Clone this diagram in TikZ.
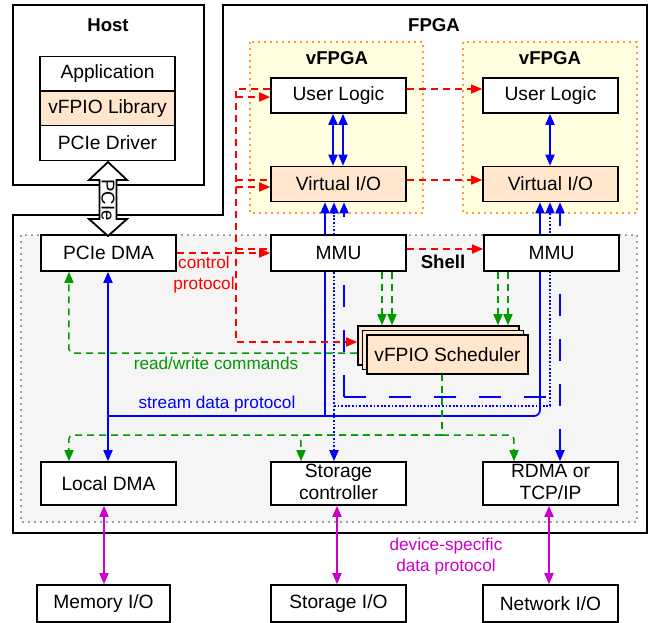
\documentclass[tikz,border=0pt]{standalone}
\usepackage{fontspec}
\setmainfont{Liberation Sans}
\usetikzlibrary{arrows.meta}
\definecolor{peach}{HTML}{FFE6CC}
\definecolor{vyel}{HTML}{FFFFE0}
\definecolor{vor}{HTML}{FF9933}
\definecolor{shellf}{HTML}{F5F5F5}
\definecolor{shellb}{HTML}{A0A0A0}
\definecolor{myred}{HTML}{FF0000}
\definecolor{mygreen}{HTML}{009900}
\definecolor{myblue}{HTML}{0000FF}
\definecolor{mymag}{HTML}{CC00CC}
\begin{document}
\begin{tikzpicture}[x=0.5pt,y=-0.5pt,
 box/.style={draw=black, line width=0.8pt, fill=white, minimum width=67.5pt, minimum height=17.5pt, inner sep=0pt, font=\fontsize{9.6}{11}\selectfont, align=center},
 pbox/.style={box, fill=peach},
 ttl/.style={font=\fontsize{9.3}{11}\selectfont\bfseries, inner sep=0pt},
 lbl/.style={font=\fontsize{8.6}{10}\selectfont, inner sep=0pt, align=center},
 rd/.style={draw=myred, line width=0.75pt, dash pattern=on 3.5pt off 2.5pt},
 gd/.style={draw=mygreen, line width=0.75pt, dash pattern=on 3.5pt off 2.5pt},
 bs/.style={draw=myblue, line width=0.9pt},
 bdot/.style={bs, dash pattern=on 0.9pt off 0.9pt},
 bdash/.style={bs, dash pattern=on 11pt off 11.5pt},
 mg/.style={draw=mymag, line width=0.9pt},
 >={Triangle[length=5.5pt,width=4.5pt]}
]
\useasboundingbox (0,0) rectangle (650,623);
% containers
\draw[line width=1pt] (13,5) rectangle (204,185);
\node[ttl] (hostt) at (108,25) {Host};
\draw[line width=1pt] (223,5) -- (647,5) -- (647,533) -- (13,533) -- (13,215) -- (223,215) -- cycle;
\node[ttl] (fpgat) at (434,25) {FPGA};
\draw[draw=vor, fill=vyel, line width=1pt, dash pattern=on 1pt off 2pt] (250,42) rectangle (423,213);
\draw[draw=vor, fill=vyel, line width=1pt, dash pattern=on 1pt off 2pt] (463,42) rectangle (637,213);
\node[ttl] (v1t) at (337,58) {vFPGA};
\node[ttl] (v2t) at (550,58) {vFPGA};
\draw[draw=shellb, fill=shellf, line width=1pt, dash pattern=on 1pt off 2pt] (21,235) rectangle (637,522);
\node[ttl] (shellt) at (443,262) {Shell};

% host stack
\node[box] (app) at (107.5,74) {Application};
\node[pbox] (lib) at (107.5,108.5) {vFPIO Library};
\node[box] (drv) at (107.5,143) {PCIe Driver};

% coordinates
\coordinate (cA) at (325,0);
\coordinate (cB) at (334,0);
\coordinate (cC) at (344,0);
\coordinate (dA) at (540,0);
\coordinate (dB) at (550,0);
\coordinate (dC) at (560,0);
\coordinate (cP) at (108,0);
\coordinate (u1) at (333,0);
\coordinate (u2) at (343,0);
\coordinate (u3) at (550,0);
\coordinate (g1) at (69,0);
\coordinate (gs) at (301,0);
\coordinate (gr) at (514,0);
\coordinate (gx) at (442,0);
\coordinate (ga) at (382,0);
\coordinate (gb) at (392,0);
\coordinate (gc) at (498,0);
\coordinate (gd) at (508,0);
\coordinate (rx) at (236,0);
\coordinate (m1) at (104,0);
\coordinate (m2) at (337,0);
\coordinate (m3) at (549,0);
\coordinate (ybus) at (0,416);
\coordinate (ydot) at (0,406);
\coordinate (ydash) at (0,397);
\coordinate (ygr) at (0,435);
\coordinate (yrw) at (0,353);
\coordinate (yred) at (0,342);
\coordinate (y89) at (0,89);
\coordinate (y97) at (0,97);
\coordinate (y180) at (0,180);
\coordinate (y187) at (0,187);
\coordinate (y249) at (0,249);

% vFPGA boxes
\node[box] (ul1) at (338.5,95.5) {User Logic};
\node[box] (ul2) at (550.5,95.5) {User Logic};
\node[pbox] (vio1) at (338.5,184) {Virtual I/O};
\node[pbox] (vio2) at (550.5,184) {Virtual I/O};

% bottom boxes (positions needed for connectors)
\node[box, minimum height=21.5pt] (ld) at (108.5,483.5) {Local DMA};
\node[box, minimum height=21.5pt] (sc) at (338.5,483.5) {};
\node[box, minimum height=21.5pt] (rd) at (550.5,483.5) {};
\node[box, minimum width=66.5pt, minimum height=18.5pt] (mi) at (103.5,603.5) {Memory I/O};
\node[box, minimum height=18.5pt] (si) at (338.5,603.5) {Storage I/O};
\node[box, minimum height=18.5pt] (ni) at (550.5,603.5) {Network I/O};

% scheduler stack
\node[pbox, minimum width=80.5pt, minimum height=19.5pt] (schB) at (438.5,345.5) {};
\node[pbox, minimum width=80.5pt, minimum height=19.5pt] (schM) at (443,350) {};

% PCIe DMA, MMU nodes placed (drawn later on top)
\path (108.5,253) node[box, minimum height=18pt, draw=none, fill=none] (pdp) {};
\path (338.5,253) node[box, minimum height=18pt, draw=none, fill=none] (mmu1p) {};
\path (551.5,253) node[box, minimum height=18pt, draw=none, fill=none] (mmu2p) {};

% blue connectors
\draw[bs,<->] (ul1.south -| u1) -- (vio1.north -| u1);
\draw[bs,<->] (ul1.south -| u2) -- (vio1.north -| u2);
\draw[bs,<->] (ul2.south -| u3) -- (vio2.north -| u3);
\draw[bs] (cP |- ybus) -- (cA |- ybus);
\draw[bs,->] (cA |- ybus) -- (vio1.south -| cA);
\draw[bs,->,rounded corners=3] (cA |- ybus) -- (dA |- ybus) -- (vio2.south -| dA);
\draw[bs,->] (cP |- ybus) -- (pdp.south -| cP);
\draw[bs,->] (cP |- ybus) -- (ld.north -| cP);
\draw[bdot,<->] (sc.north -| cB) -- (vio1.south -| cB);
\draw[bdot,->] (cB |- ydot) -- (dB |- ydot) -- (vio2.south -| dB);
\draw[bdash,->] (cC |- ydash) -- (vio1.south -| cC);
\draw[bdash] (cC |- ydash) -- (dC |- ydash);
\draw[bdash,<->] (rd.north -| dC) -- (vio2.south -| dC);

% green connectors
\draw[gd,->] (mmu1p.south -| ga) -- (schB.north -| ga);
\draw[gd,->] (mmu1p.south -| gb) -- (schB.north -| gb);
\draw[gd,->] (mmu2p.south -| gc) -- (schB.north -| gc);
\draw[gd,->] (mmu2p.south -| gd) -- (schB.north -| gd);
\draw[gd,->,rounded corners=2] (schB.west |- yrw) -- (g1 |- yrw) -- (pdp.south -| g1);
\draw[gd] (gx |- yrw) ++(0,21) -- (gx |- ygr);
\draw[gd,->,rounded corners=2] (gx |- ygr) -- (g1 |- ygr) -- (ld.north -| g1);
\draw[gd,->,rounded corners=2] (gx |- ygr) -- (gr |- ygr) -- (rd.north -| gr);
\draw[gd,->,rounded corners=2] (gx |- ygr) -- (gs |- ygr) -- (sc.north -| gs);

% red connectors
\draw[rd,->] (pdp.east) -- (mmu1p.west);
\draw[rd] (rx |- y249) -- (mmu1p.west |- y249);
\draw[rd,->] (ul1.west |- y89) -- (rx |- y89) -- (rx |- yred) -- (schB.west |- yred);
\draw[rd,->] (rx |- y97) -- (ul1.west |- y97);
\draw[rd] (rx |- y180) -- (vio1.west |- y180);
\draw[rd,->] (rx |- y187) -- (vio1.west |- y187);
\draw[rd,->] (ul1.east |- y89) -- (ul2.west |- y89);
\draw[rd,->] (vio1.east |- y180) -- (vio2.west |- y180);
\draw[rd,->] (mmu1p.east |- y249) -- (mmu2p.west |- y249);

% magenta
\draw[mg,<->] (ld.south -| m1) -- (mi.north -| m1);
\draw[mg,<->] (sc.south -| m2) -- (si.north -| m2);
\draw[mg,<->] (rd.south -| m3) -- (ni.north -| m3);

% boxes on top
\node[box, minimum height=18pt] (pd) at (108.5,253) {PCIe DMA};
\node[box, minimum height=18pt] (mmu1) at (338.5,253) {MMU};
\node[box, minimum height=18pt] (mmu2) at (551.5,253) {MMU};
\node[pbox, minimum width=80.5pt, minimum height=19.5pt] (sch) at (447.5,354.5) {vFPIO Scheduler};
\node[font=\fontsize{9.6}{11}\selectfont, align=center, inner sep=0pt] (sct) at (338.5,482) {Storage\\[0.1pt]controller};
\node[font=\fontsize{9.6}{11}\selectfont, align=center, inner sep=0pt] (rdt) at (550.5,482) {RDMA or\\[0.1pt]TCP/IP};

% PCIe block arrow
\draw[fill=white, line width=0.9pt] (108,162) -- (127,180) -- (116.5,180) -- (116.5,219) -- (127,219) -- (108,236) -- (89,219) -- (99.5,219) -- (99.5,180) -- (89,180) -- cycle;
\node[font=\fontsize{9.3}{11}\selectfont, rotate=-90, inner sep=0pt] (pcie) at (108,200) {PCIe};

% labels
\node[lbl, text=myred] (ctl) at (204,275) {control\\[0.5pt]protocol};
\node[lbl, text=mygreen] (rwl) at (216,363) {read/write commands};
\node[lbl, text=myblue] (sdl) at (217,404) {stream data protocol};
\node[lbl, text=mymag] (dsl) at (446,557) {device-specific\\[0.5pt]data protocol};
\end{tikzpicture}
\end{document}
